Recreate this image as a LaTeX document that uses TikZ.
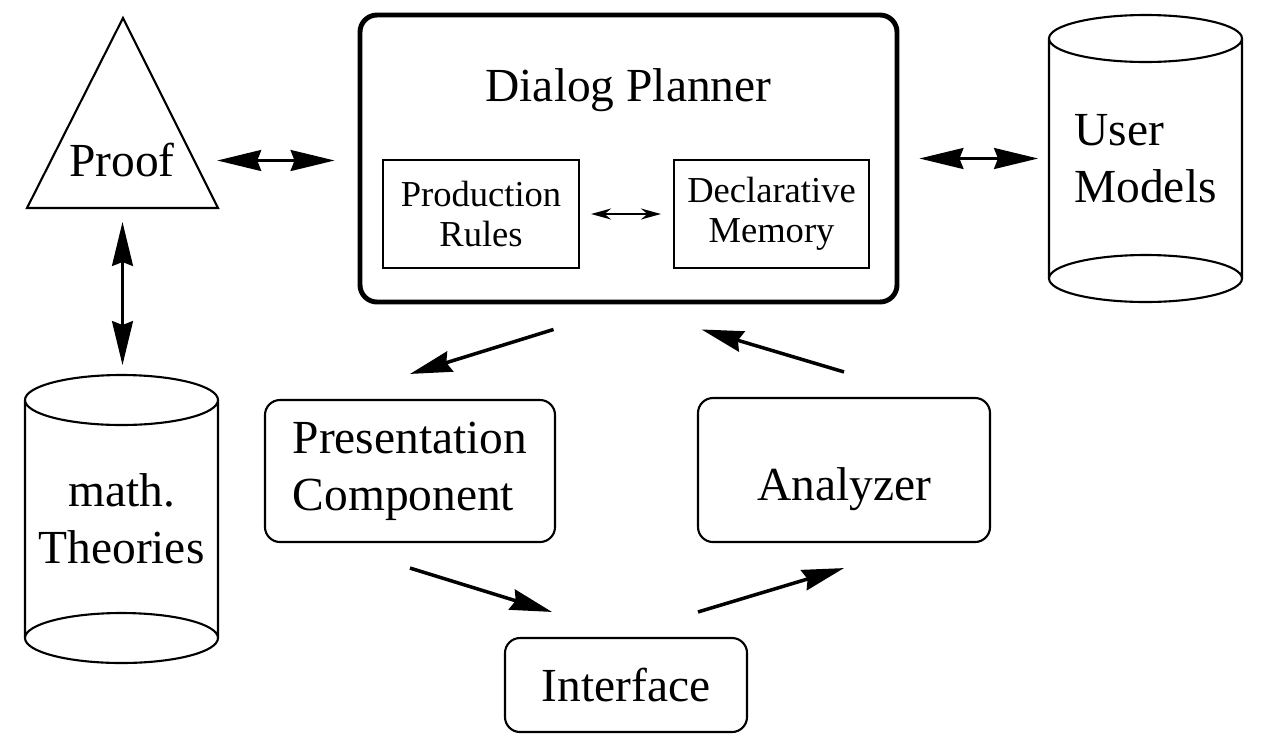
\documentclass[tikz,border=0pt]{standalone}
\usepackage{fontspec}
\setmainfont{Liberation Serif}
\usetikzlibrary{arrows.meta,calc}

\tikzset{
  box/.style={draw, line width=0.6pt, rounded corners=0.15cm, align=left},
  planner/.style={draw, line width=1.4pt, rounded corners=0.17cm},
  part/.style={draw, line width=0.6pt, align=center, font=\fontsize{10.4}{11.4}\selectfont},
  drum/.style={inner sep=0pt, outer sep=0pt, minimum width=1.93cm},
  twoway/.style={<->, >={Stealth[length=4.4mm,width=2.1mm,inset=0.4mm]}, line width=0.7pt},
  oneway/.style={->, >={Stealth[length=4.2mm,width=2.1mm,inset=0.4mm]}, line width=1pt},
  shortlink/.style={<->, >={Stealth[length=2mm,width=1.1mm]}, line width=0.6pt}
}

\begin{document}
\begin{tikzpicture}[font=\fontsize{13.5}{16.2}\selectfont]
  \useasboundingbox (0,0) rectangle (12.71,7.35);

  % proof triangle
  \draw[line width=0.6pt] (1.23,7.17) coordinate (apex) -- (2.18,5.27) coordinate (brc)
    -- (0.27,5.27) coordinate (blc) -- cycle;
  \node (proof) at (1.22,5.75) {Proof};
  \path (apex) -- (brc) coordinate[pos=0.75] (proofR);
  \coordinate (proofS) at ($(blc)!0.5!(brc)$);

  % dialog planner
  \node[planner, minimum width=5.37cm, minimum height=2.87cm] (dp) at (6.285,5.765) {};
  \node (dptitle) at (6.285,6.45) {Dialog Planner};
  \node[part, minimum width=1.96cm, minimum height=1.08cm] (prod) at (4.81,5.21) {Production\\Rules};
  \node[part, minimum width=1.95cm, minimum height=1.08cm] (decl) at (7.715,5.21) {Declarative\\Memory};

  % data bases
  \node[drum, minimum height=2.87cm, align=left] (users) at (11.455,5.765) {User\\Models};
  \node[drum, minimum height=2.88cm, align=center] (theories) at (1.215,2.16) {math.\\Theories};
  \foreach \n/\ry in {users/0.235,theories/0.25}{
    \draw[line width=0.6pt] ([yshift=-\ry cm]\n.north west) -- ([yshift=\ry cm]\n.south west)
      ([yshift=-\ry cm]\n.north east) -- ([yshift=\ry cm]\n.south east)
      ([yshift=-\ry cm]\n.north) ellipse [x radius=0.965cm, y radius=\ry cm]
      ([yshift=\ry cm]\n.south) ellipse [x radius=0.965cm, y radius=\ry cm];
  }

  \begin{scope}[every node/.style={box}]
    \node[minimum width=2.90cm, minimum height=1.42cm] (pres) at (4.10,2.64) {Presentation\\Component};
    \node[minimum width=2.92cm, minimum height=1.44cm, text height=0.62cm, text depth=0.02cm] (ana) at (8.44,2.65) {Analyzer};
    \node[minimum width=2.42cm, minimum height=0.94cm] (iface) at (6.26,0.50) {Interface};
  \end{scope}

  % connectors
  \draw[twoway, shorten <=0.23cm, shorten >=0.23cm] (proofR) -- (proofR -| dp.west);
  \draw[twoway, shorten <=0.14cm, shorten >=0.10cm] (proofS) -- (proofS |- theories.north);
  \path (prod) edge[shortlink, shorten <=0.11cm, shorten >=0.12cm] (decl);
  \path (dp) edge[twoway, shorten <=0.2cm, shorten >=0.11cm] (users);

  \draw[oneway] ([xshift=-0.75cm,yshift=-0.25cm]dp.south) -- ([yshift=0.25cm]pres.north);
  \draw[oneway] ([yshift=0.25cm]ana.north) -- ([xshift=0.73cm,yshift=-0.25cm]dp.south);
  \draw[oneway] ([yshift=-0.25cm]pres.south) -- ([xshift=-0.74cm,yshift=0.25cm]iface.north);
  \draw[oneway] ([xshift=0.72cm,yshift=0.25cm]iface.north) -- ([yshift=-0.25cm]ana.south);
\end{tikzpicture}
\end{document}
